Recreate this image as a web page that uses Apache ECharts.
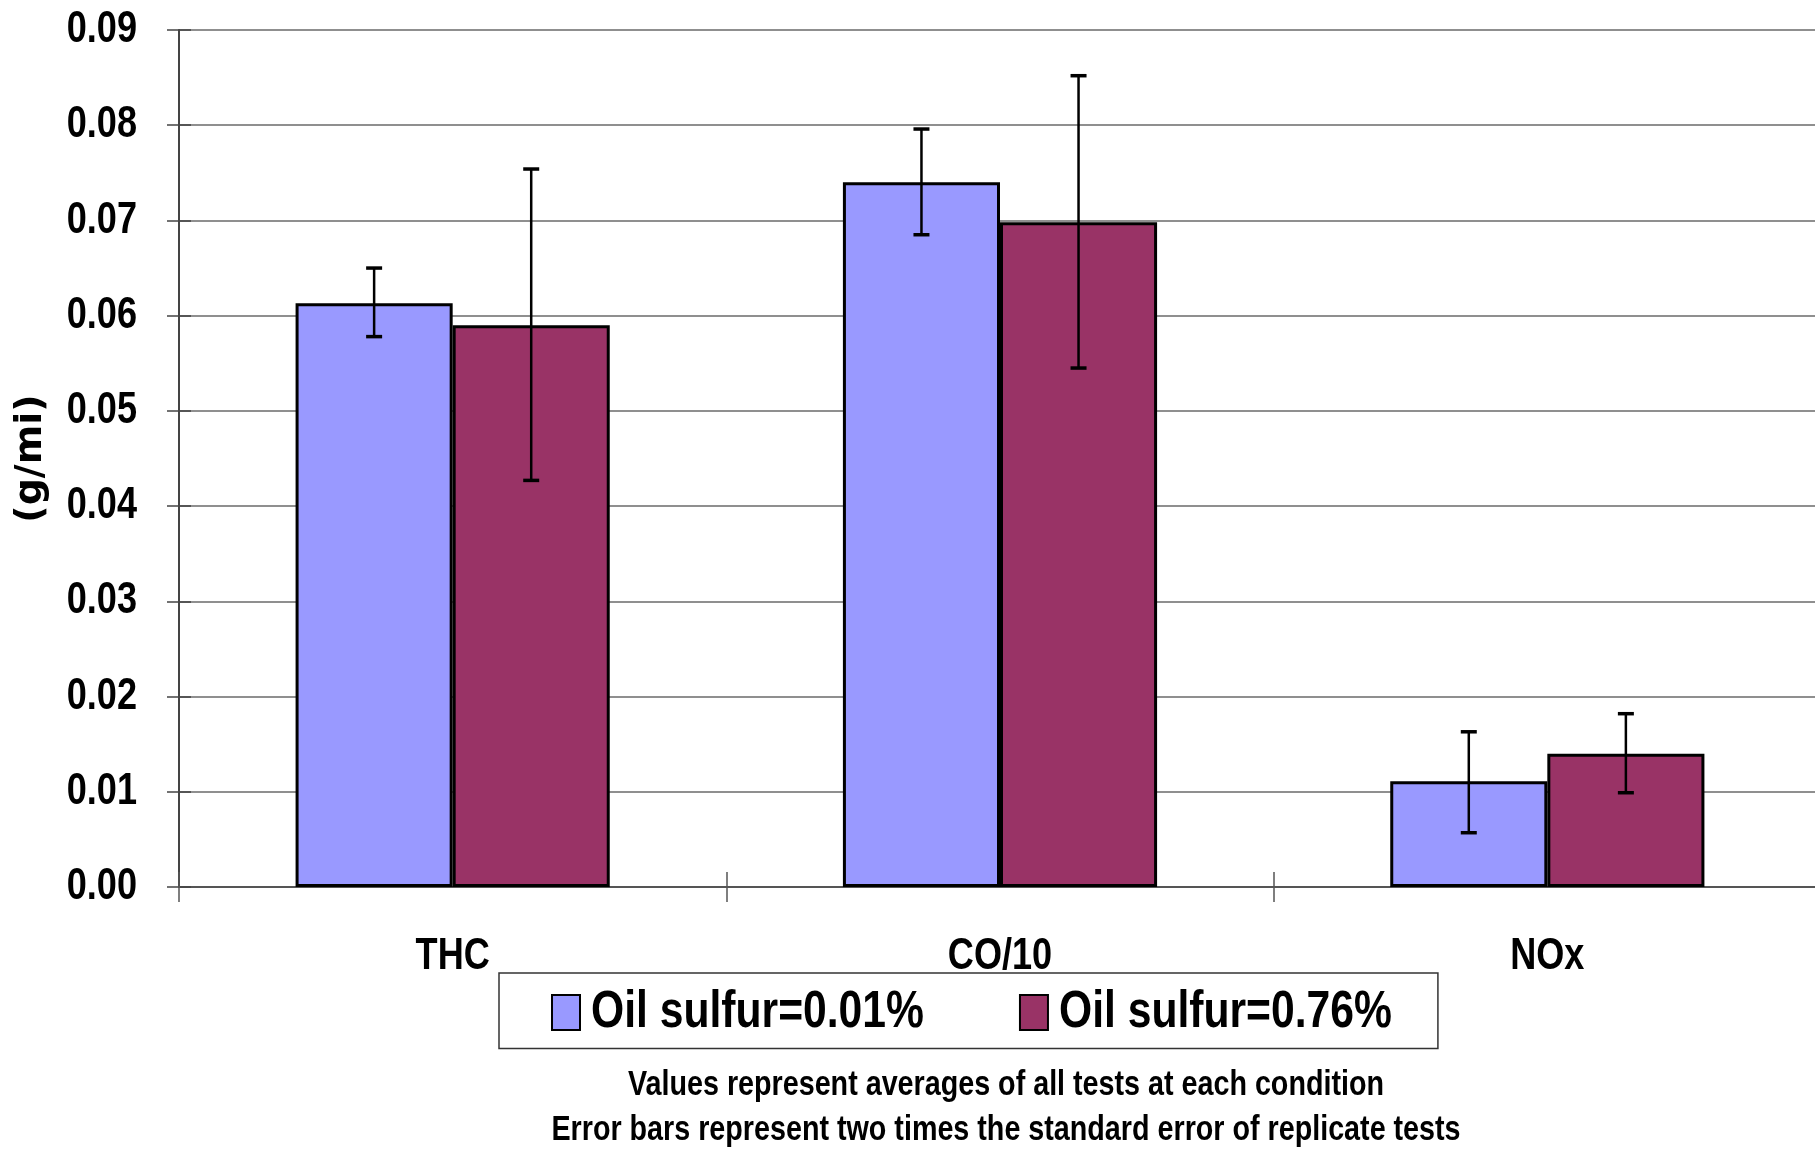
<!DOCTYPE html>
<html>
<head>
<meta charset="utf-8">
<script src="https://cdn.jsdelivr.net/npm/echarts@6/dist/echarts.min.js"></script>
<style>
html,body{margin:0;padding:0;background:#fff;}
#chart{width:1815px;height:1149px;}
</style>
</head>
<body>
<div id="chart"></div>
<script>
// ---- data ----
var categories = ['THC', 'CO/10', 'NOx'];
var seriesNames = ['Oil sulfur=0.01%', 'Oil sulfur=0.76%'];
var lowSulfur = [0.0613, 0.0740, 0.0111];
var highSulfur = [0.0590, 0.0698, 0.0140];
var lowSulfurErrLow = [0.0578, 0.0685, 0.0057];
var lowSulfurErrHigh = [0.0650, 0.0796, 0.0163];
var highSulfurErrLow = [0.0427, 0.0545, 0.0099];
var highSulfurErrHigh = [0.0754, 0.0852, 0.0182];
var yTicks = [0, 0.01, 0.02, 0.03, 0.04, 0.05, 0.06, 0.07, 0.08, 0.09];
var yName = '(g/mi)';
var notes = ['Values represent averages of all tests at each condition',
             'Error bars represent two times the standard error of replicate tests'];

// Arial Narrow look: Liberation Sans Bold drawn at 82% width (no narrow face installed)
(function () {
  var proto = CanvasRenderingContext2D.prototype;
  var SX = 0.82;
  var oFill = proto.fillText, oStroke = proto.strokeText, oMeasure = proto.measureText;
  function narrow(ctx) { return String(ctx.font).indexOf('Narrow') >= 0; }
  proto.fillText = function (t, x, y) {
    if (!narrow(this)) return oFill.apply(this, arguments);
    this.save(); this.translate(x, y); this.scale(SX, 1); oFill.call(this, t, 0, 0); this.restore();
  };
  proto.strokeText = function (t, x, y) {
    if (!narrow(this)) return oStroke.apply(this, arguments);
    this.save(); this.translate(x, y); this.scale(SX, 1); oStroke.call(this, t, 0, 0); this.restore();
  };
  proto.measureText = function (t) {
    var m = oMeasure.call(this, t);
    if (!narrow(this)) return m;
    return {
      width: m.width * SX,
      actualBoundingBoxLeft: m.actualBoundingBoxLeft * SX,
      actualBoundingBoxRight: m.actualBoundingBoxRight * SX,
      actualBoundingBoxAscent: m.actualBoundingBoxAscent,
      actualBoundingBoxDescent: m.actualBoundingBoxDescent,
      fontBoundingBoxAscent: m.fontBoundingBoxAscent,
      fontBoundingBoxDescent: m.fontBoundingBoxDescent
    };
  };
})();

var NARROW = "'Liberation Sans Narrow', 'Liberation Sans', Arial, sans-serif";
var colors = ['#9999FF', '#993366'];
var catGap = 0.426;

function errData(lo, hi) {
  return lo.map(function (v, i) { return [i, v, hi[i]]; });
}
function errRender(sign) {
  return function (params, api) {
    var i = api.value(0);
    var band = api.size([1, 0])[0];
    var bw = band * (1 - catGap) / 2;
    var x = api.coord([i, 0])[0] + sign * bw / 2;
    var yL = api.coord([i, api.value(1)])[1];
    var yH = api.coord([i, api.value(2)])[1];
    return {
      type: 'group',
      children: [
        { type: 'line', shape: { x1: x, y1: yL, x2: x, y2: yH }, style: { stroke: '#000', lineWidth: 2.5 } },
        { type: 'line', shape: { x1: x - 8, y1: yH, x2: x + 8, y2: yH }, style: { stroke: '#000', lineWidth: 3.5 } },
        { type: 'line', shape: { x1: x - 8, y1: yL, x2: x + 8, y2: yL }, style: { stroke: '#000', lineWidth: 3.5 } }
      ]
    };
  };
}

var chart = echarts.init(document.getElementById('chart'), null, { renderer: 'canvas' });
var option = {
  animation: false,
  backgroundColor: '#fff',
  grid: { left: 179, top: 30, width: 1642, height: 857, containLabel: false, outerBoundsMode: 'none' },
  legend: {
    data: seriesNames,
    left: 499,
    top: 973,
    orient: 'horizontal',
    itemWidth: 28,
    itemHeight: 35,
    itemGap: 95,
    borderColor: '#333',
    borderWidth: 1.5,
    borderRadius: 0,
    padding: [6.5, 46, 3, 52],
    icon: 'rect',
    itemStyle: { borderColor: '#000', borderWidth: 2 },
    textStyle: { fontFamily: NARROW, fontWeight: 'bold', fontSize: 52, color: '#000', lineHeight: 52, padding: [14, 0, 0, 6] }
  },
  xAxis: [{
    type: 'category',
    data: categories,
    axisLine: { show: true, lineStyle: { color: '#555', width: 2 } },
    axisTick: { show: true, length: 15, lineStyle: { color: '#555', width: 1.5 } },
    axisLabel: { fontFamily: NARROW, fontWeight: 'bold', fontSize: 44, color: '#000', margin: 52 }
  }, {
    type: 'category',
    data: categories,
    position: 'bottom',
    axisLine: { show: false },
    axisTick: { show: true, inside: true, length: 15, lineStyle: { color: '#555', width: 1.5 } },
    axisLabel: { show: false }
  }],
  yAxis: [{
    type: 'value',
    min: yTicks[0],
    max: yTicks[yTicks.length - 1],
    interval: 0.01,
    name: yName,
    nameLocation: 'middle',
    nameRotate: 90,
    nameGap: 129,
    nameTextStyle: { fontFamily: "'DejaVu Sans', sans-serif", fontWeight: 'bold', fontSize: 38, color: '#000' },
    axisLine: { show: true, lineStyle: { color: '#444', width: 2 } },
    axisTick: { show: true, length: 12, lineStyle: { color: '#444', width: 1.5 } },
    splitLine: { show: true, lineStyle: { color: '#6a6a6a', width: 1.5 } },
    axisLabel: {
      fontFamily: NARROW, fontWeight: 'bold', fontSize: 44, color: '#000', margin: 42,
      formatter: function (v) { return v.toFixed(2); }
    }
  }, {
    type: 'value',
    position: 'left',
    min: yTicks[0],
    max: yTicks[yTicks.length - 1],
    interval: 0.01,
    axisLine: { show: false },
    axisTick: { show: true, inside: true, length: 12, lineStyle: { color: '#444', width: 1.5 } },
    splitLine: { show: false },
    axisLabel: { show: false }
  }],
  series: [{
    name: seriesNames[0],
    type: 'bar',
    data: lowSulfur,
    barGap: '0%',
    barCategoryGap: (catGap * 100) + '%',
    itemStyle: { color: colors[0], borderColor: '#000', borderWidth: 3 },
    z: 2
  }, {
    name: seriesNames[1],
    type: 'bar',
    data: highSulfur,
    barGap: '0%',
    barCategoryGap: (catGap * 100) + '%',
    itemStyle: { color: colors[1], borderColor: '#000', borderWidth: 3 },
    z: 2
  }, {
    type: 'custom',
    renderItem: errRender(-1),
    data: errData(lowSulfurErrLow, lowSulfurErrHigh),
    encode: { x: 0, y: [1, 2] },
    z: 5,
    silent: true
  }, {
    type: 'custom',
    renderItem: errRender(1),
    data: errData(highSulfurErrLow, highSulfurErrHigh),
    encode: { x: 0, y: [1, 2] },
    z: 5,
    silent: true
  }],
  graphic: [{
    type: 'text',
    x: 1006,
    y: 1085,
    style: { text: notes[0], font: 'bold 35px ' + NARROW, fill: '#000', textAlign: 'center', textVerticalAlign: 'middle' }
  }, {
    type: 'text',
    x: 1006,
    y: 1130,
    style: { text: notes[1], font: 'bold 35px ' + NARROW, fill: '#000', textAlign: 'center', textVerticalAlign: 'middle' }
  }]
};
chart.setOption(option);
</script>
</body>
</html>
